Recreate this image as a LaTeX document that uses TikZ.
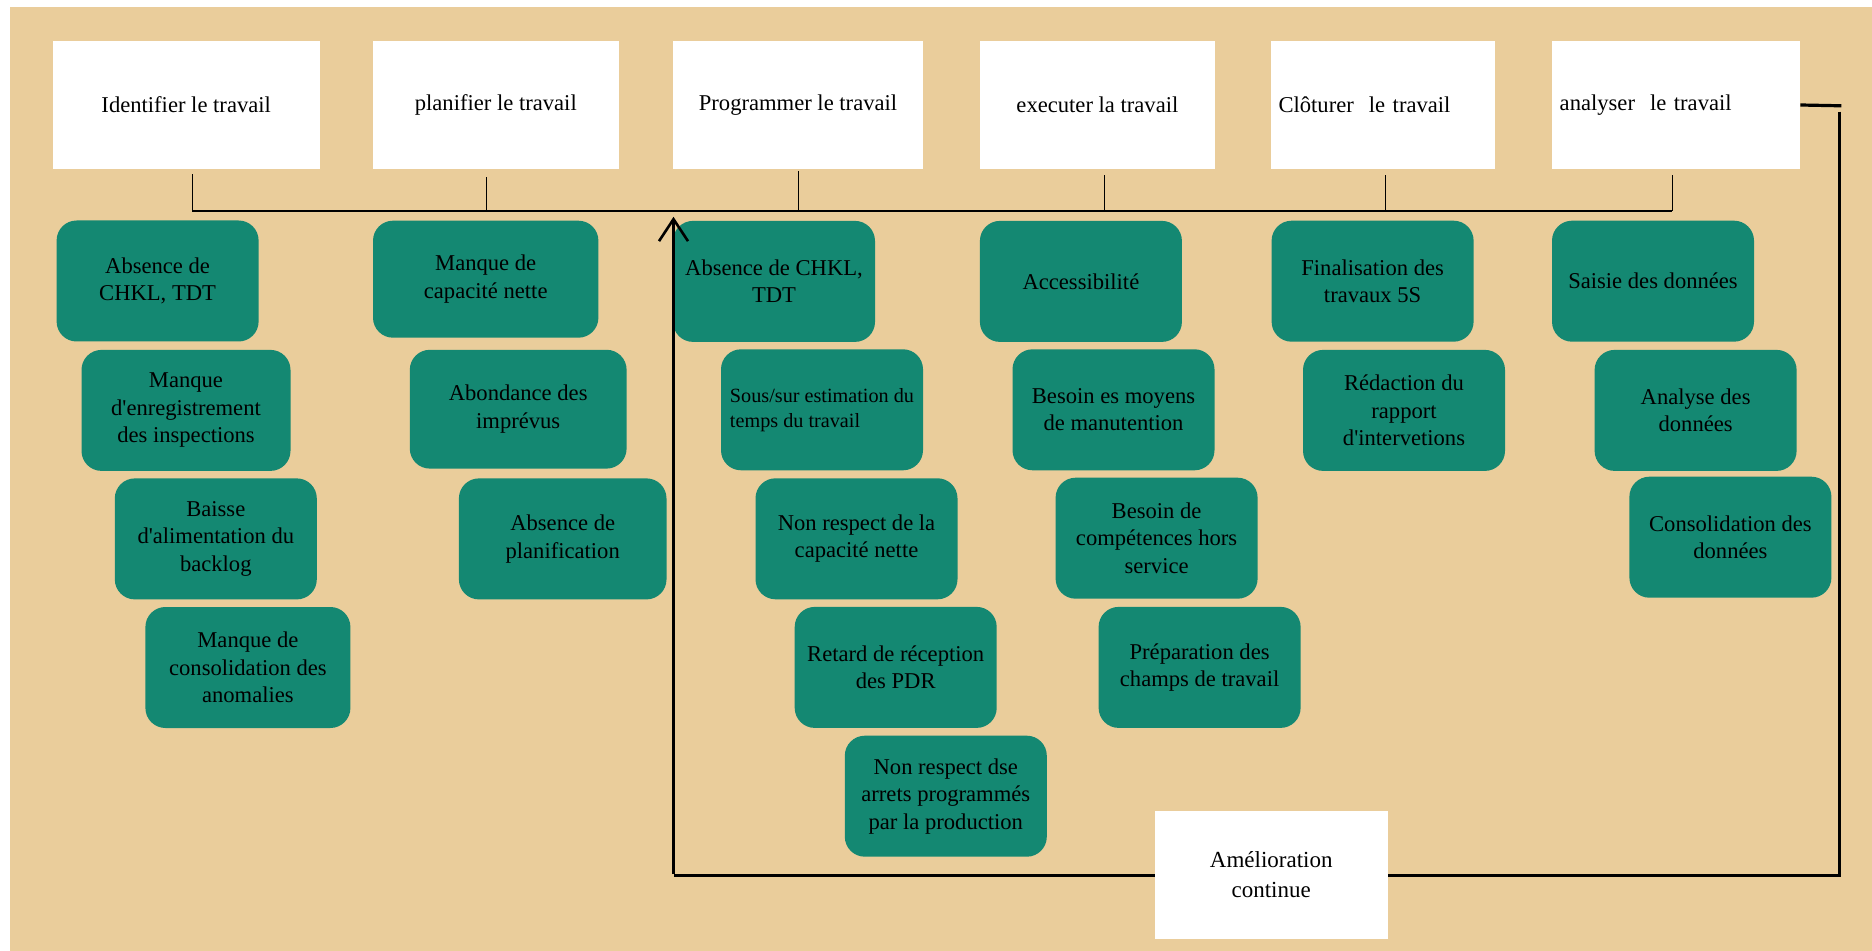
\documentclass[tikz,border=0pt]{standalone}
\usepackage{fontspec}
\setmainfont{Liberation Serif}
\usetikzlibrary{arrows.meta}
\definecolor{sand}{RGB}{234,205,155}
\definecolor{teal}{RGB}{20,136,114}
\newcommand{\ap}{\textquotesingle}
\tikzset{
  label font/.style={font=\fontsize{11.3pt}{13.75pt}\selectfont},
  stage/.style={label font, fill=white, draw=none, inner sep=0pt,
    minimum height=64.3pt, align=center},
  cause/.style={label font, fill=teal, draw=none, rounded corners=10pt,
    inner sep=0pt, minimum width=101pt, minimum height=60.5pt,
    align=center, text=black},
  bus/.style={line width=0.65pt, black},
  tick/.style={line width=0.5pt, black},
  loop/.style={line width=1.6pt, black, line join=miter},
}
\begin{document}
\begin{tikzpicture}[x=0.5pt,y=-0.5pt]
\useasboundingbox (0,0) rectangle (1872,951);
\fill[sand] (10,7.5) rectangle (1872,951);

% process stages
\node[stage, minimum width=133.4pt] (w1) at (186.2,105) {Identifier le travail};
\node[stage, minimum width=122.9pt] (w2) at (495.8,105) {planifier le travail};
\node[stage, minimum width=125.3pt] (w3) at (798,105) {Programmer le travail};
\node[stage, minimum width=117.5pt] (w4) at (1097.4,105) {executer la travail};
\node[stage, text width=104.5pt, inner xsep=3.6pt, align=left] (w5) at (1383,105) {Clôturer\ \ le travail};
\node[stage, text width=116.2pt, inner xsep=3.9pt, align=left] (w6) at (1675.9,105) {analyser\ \ le travail};

% bus joining the stages
\coordinate (b1) at (192.4,211);
\coordinate (b2) at (486.8,211);
\coordinate (b3) at (798.6,211);
\coordinate (b4) at (1104.2,211);
\coordinate (b5) at (1385.4,211);
\coordinate (b6) at (1672,211);
\draw[bus] (b1) -- (b6);
\draw[tick] (b1) -- ([yshift=-2pt]b1 |- w1.south);
\draw[tick] (b2) -- ([yshift=-3.5pt]b2 |- w2.south);
\draw[tick] (b3) -- ([yshift=-0.5pt]b3 |- w3.south);
\draw[tick] (b4) -- ([yshift=-2.5pt]b4 |- w4.south);
\draw[tick] (b5) -- ([yshift=-2.5pt]b5 |- w5.south);
\draw[tick] (b6) -- ([yshift=-2.5pt]b6 |- w6.south);

% causes: identifier
\node[cause] (a1) at (157.6,281) {Absence de\\CHKL, TDT};
\node[cause, minimum width=104.5pt] (a2) at (186,410.4) {Manque\\d\ap enregistrement\\des inspections};
\node[cause] (a3) at (215.8,538.9) {Baisse\\d\ap alimentation du\\backlog};
\node[cause, minimum width=102.5pt] (a4) at (247.9,667.5) {Manque de\\consolidation des\\anomalies};
% causes: planifier
\node[cause, minimum width=112.7pt, minimum height=58.5pt] (p1) at (485.7,279.2) {Manque de\\capacité nette};
\node[cause, minimum width=108.4pt, minimum height=59.4pt] (p2) at (518.2,409.2) {Abondance des\\imprévus};
\node[cause, minimum width=103.8pt] (p3) at (562.7,538.9) {Absence de\\planification};
% causes: programmer
\node[cause] (c1) at (774,281.4) {Absence de CHKL,\\TDT};
\node[cause, align=left, font=\fontsize{10.1pt}{12.6pt}\selectfont] (c2) at (822,409.8) {Sous/sur estimation du\\temps du travail};
\node[cause] (c3) at (856.5,538.8) {Non respect de la\\capacité nette};
\node[cause] (c4) at (895.7,667.4) {Retard de réception\\des PDR};
\node[cause] (c5) at (945.8,796.2) {Non respect dse\\arrets programmés\\par la production};
% causes: executer
\node[cause] (d1) at (1080.9,281.4) {Accessibilité};
\node[cause] (d2) at (1113.5,409.8) {Besoin es moyens\\de manutention};
\node[cause] (d3) at (1156.6,538.2) {Besoin de\\compétences hors\\service};
\node[cause] (d4) at (1199.6,667.4) {Préparation des\\champs de travail};
% causes: clôturer
\node[cause] (e1) at (1372.6,281.2) {Finalisation des\\travaux 5S};
\node[cause] (e2) at (1404,410.4) {Rédaction du\\rapport\\d\ap intervetions};
% causes: analyser
\node[cause] (f1) at (1653,281.2) {Saisie des données};
\node[cause] (f2) at (1695.6,410.4) {Analyse des\\données};
\node[cause] (f3) at (1730.4,537.2) {Consolidation des\\données};

% continuous improvement loop
\coordinate (r0) at (1841.3,105.8);
\coordinate (r1) at (1839.3,111.7);
\coordinate (r2) at (1839.3,875.6);
\coordinate (r3) at (673.5,875.6);
\coordinate (loopin) at (673.5,216.8);
\draw[loop] (w6.east) -- (r0);
\draw[loop] (r1) -- (r2) -- (r3);
\draw[line width=1.3pt, black, -{Straight Barb[length=11pt,width=14.5pt,line width=1.3pt]}]
  ([yshift=0.8pt]r3) -- (loopin);

\node[stage, minimum width=116.7pt, font=\fontsize{11.5pt}{15pt}\selectfont] (ac) at (1271.2,874.9) {Amélioration\\continue};
\end{tikzpicture}
\end{document}
